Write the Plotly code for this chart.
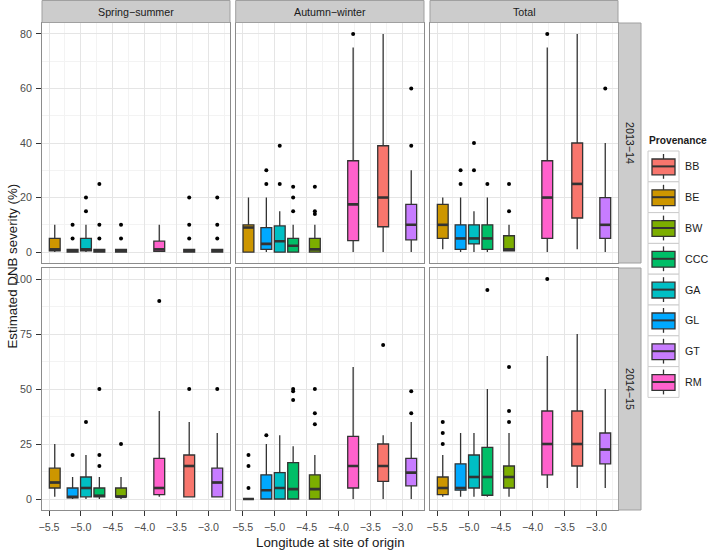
import plotly.graph_objects as go

# ---------------- data ----------------
provenances = ["BB", "BE", "BW", "CCC", "GA", "GL", "GT", "RM"]
longitudes = [-3.30, -5.41, -4.37, -4.71, -4.92, -5.13, -2.86, -3.77]
colors = ["#F8766D", "#CD9600", "#7CAE00", "#00BE67", "#00BFC4", "#00A9FF", "#C77CFF", "#FF61CC"]

seasons = ["Spring\u2212summer", "Autumn\u2212winter", "Total"]
years = ["2013\u221214", "2014\u221215"]

# Spring-summer 2013-14  (order follows `provenances`)
ss13_lo = [0, 0, 0, 0, 0, 0, 0, 0]
ss13_q1 = [0, 0.5, 0, 0, 0.5, 0, 0, 0.3]
ss13_med = [0.5, 1, 0.5, 0.5, 1, 0.5, 0.5, 1]
ss13_q3 = [1, 5, 1, 1, 5, 1, 1, 4]
ss13_hi = [1, 10, 1, 1, 10, 1, 1, 10]
ss13_out = [[5, 10, 20], [], [5, 10], [5, 10, 25], [15, 20], [5, 10], [5, 10, 20], []]

# Autumn-winter 2013-14
aw13_lo = [0, 0, 0, 0, 0, 0, 0, 0]
aw13_q1 = [9.3, 0, 0, 0, 0, 1, 4.5, 4.2]
aw13_med = [20, 9, 1, 2.3, 4, 3, 10, 17.5]
aw13_q3 = [39, 10, 5, 5, 9.6, 9, 17.5, 33.5]
aw13_hi = [80, 20, 10, 10, 15, 20, 30, 75]
aw13_out = [[], [], [14, 15, 24], [15, 20, 24], [25, 39], [25, 30], [39, 60], [80]]

# Total 2013-14
to13_lo = [1, 1, 0.5, 0, 0, 0, 0, 0]
to13_q1 = [12.5, 5, 0.5, 1, 3, 1, 5, 5]
to13_med = [25, 10, 1, 5, 5, 5, 10, 20]
to13_q3 = [40, 17.5, 6, 10, 10, 10, 20, 33.5]
to13_hi = [80, 20, 10, 20, 15, 20, 40, 75]
to13_out = [[], [], [15, 25], [25], [30, 40], [25, 30], [60], [80]]

# Spring-summer 2014-15
ss14_lo = [1, 1, 0, 0, 0, 0, 1, 1]
ss14_q1 = [1, 5, 1, 1, 1, 0.5, 1, 2]
ss14_med = [15, 7.5, 1, 1.5, 5, 1, 7.5, 5]
ss14_q3 = [20, 14, 5, 5, 10, 5, 14, 18.5]
ss14_hi = [35, 25, 10, 10, 20, 10, 30, 40]
ss14_out = [[50], [], [25], [15, 20, 50], [35], [20], [50], [90]]

# Autumn-winter 2014-15
aw14_lo = [0, 0, 0, 0, 0, 0, 0, 0]
aw14_q1 = [8, 0, 0, 0, 0, 0, 6, 5]
aw14_med = [15, 0, 4.5, 4.5, 5, 4, 12, 15]
aw14_q3 = [25, 0, 11, 16.5, 12, 11, 18.5, 28.5]
aw14_hi = [29, 0, 20, 24, 29, 25, 35, 60]
aw14_out = [[70], [5, 15, 20], [34, 39, 50], [45, 49, 50], [], [29], [39, 49], []]

# Total 2014-15
to14_lo = [5, 1, 1, 1, 1, 1, 5, 5]
to14_q1 = [15, 2, 5, 1.7, 5, 4, 16, 11]
to14_med = [25, 5, 10, 10, 10, 5, 22.5, 25]
to14_q3 = [40, 10, 15, 23.5, 20, 16, 30, 40]
to14_hi = [75, 20, 30, 50, 30, 30, 50, 65]
to14_out = [[], [25, 30, 35], [35, 40, 60], [95], [], [], [], [100]]

panels = [
    (ss13_lo, ss13_q1, ss13_med, ss13_q3, ss13_hi, ss13_out),
    (aw13_lo, aw13_q1, aw13_med, aw13_q3, aw13_hi, aw13_out),
    (to13_lo, to13_q1, to13_med, to13_q3, to13_hi, to13_out),
    (ss14_lo, ss14_q1, ss14_med, ss14_q3, ss14_hi, ss14_out),
    (aw14_lo, aw14_q1, aw14_med, aw14_q3, aw14_hi, aw14_out),
    (to14_lo, to14_q1, to14_med, to14_q3, to14_hi, to14_out),
]

x_ticks = [-5.5, -5.0, -4.5, -4.0, -3.5, -3.0]
y_ticks_top = [0, 20, 40, 60, 80]
y_ticks_bottom = [0, 25, 50, 75, 100]

# ---------------- layout geometry ----------------
W, H = 709, 551
COL_X = [(42, 230), (235.7, 424), (430, 618)]
ROW_Y = [(23, 263), (268, 510)]
X_RANGE = [-5.61, -2.66]
Y_RANGES = [[-4, 84], [-5, 105]]
BOX_W = 0.17
FONT = "Liberation Sans, Arial, Helvetica, sans-serif"
OUTLINE = "#333333"


def fx(px):
    return px / W


def fy(py):
    return 1 - py / H


def note(text, x, y, size=10.7, angle=0, xanchor="center", bold=False):
    return dict(text=f"<b>{text}</b>" if bold else text, xref="paper", yref="paper",
                x=fx(x), y=fy(y), xanchor=xanchor, yanchor="middle", showarrow=False,
                textangle=angle, font=dict(size=size, color="#1A1A1A", family=FONT))


fig = go.Figure()
layout = dict(
    width=W, height=H, margin=dict(l=0, r=0, t=0, b=0, autoexpand=False),
    paper_bgcolor="white", plot_bgcolor="white", showlegend=False,
    font=dict(family=FONT, color="#1A1A1A"),
    boxmode="overlay",
)

shapes = []
annotations = []

for r in range(2):
    for c in range(3):
        i = r * 3 + c + 1
        sfx = "" if i == 1 else str(i)
        xa, ya = "x" + sfx, "y" + sfx
        yt = y_ticks_top if r == 0 else y_ticks_bottom
        ydt = yt[1] - yt[0]
        layout["xaxis" + sfx] = dict(
            domain=[fx(COL_X[c][0]), fx(COL_X[c][1])], anchor=ya, range=X_RANGE,
            tickmode="array", tickvals=x_ticks, ticktext=[f"{v:.1f}".replace("-", "\u2212") for v in x_ticks],
            showgrid=True, gridcolor="#E5E5E5", gridwidth=1,
            minor=dict(tickmode="array", tickvals=[v + 0.25 for v in x_ticks] + [x_ticks[0] - 0.25],
                       showgrid=True, gridcolor="#F3F3F3", gridwidth=1),
            showline=True, mirror=True, linecolor="#8C8C8C", linewidth=1, zeroline=False,
            showticklabels=(r == 1), ticks="outside" if r == 1 else "", ticklen=5,
            tickcolor=OUTLINE, tickwidth=1, automargin=False, ticklabelstandoff=2,
            tickfont=dict(size=10.7, color="#4D4D4D", family=FONT),
        )
        layout["yaxis" + sfx] = dict(
            domain=[fy(ROW_Y[r][1]), fy(ROW_Y[r][0])], anchor=xa, range=Y_RANGES[r],
            tickmode="array", tickvals=yt, ticktext=[str(v) for v in yt],
            showgrid=True, gridcolor="#E5E5E5", gridwidth=1,
            minor=dict(tickmode="array", tickvals=[v + ydt / 2 for v in yt[:-1]],
                       showgrid=True, gridcolor="#F3F3F3", gridwidth=1),
            showline=True, mirror=True, linecolor="#8C8C8C", linewidth=1, zeroline=False,
            showticklabels=(c == 0), ticks="outside" if c == 0 else "", ticklen=5,
            tickcolor=OUTLINE, tickwidth=1, automargin=False, ticklabelstandoff=2,
            tickfont=dict(size=10.7, color="#4D4D4D", family=FONT),
        )

        lo, q1, med, q3, hi, outs = panels[i - 1]
        mx, my = [], []
        ox, oy = [], []
        for k, name in enumerate(provenances):
            pos = longitudes[k]
            fig.add_trace(go.Box(
                x=[pos], q1=[q1[k]], median=[med[k]], q3=[q3[k]],
                lowerfence=[lo[k]], upperfence=[hi[k]],
                width=BOX_W, whiskerwidth=0, boxpoints=False,
                fillcolor=colors[k], line=dict(color=OUTLINE, width=1.3),
                name=name, xaxis=xa, yaxis=ya, hoverinfo="skip",
            ))
            mx += [pos - BOX_W / 2, pos + BOX_W / 2, None]
            my += [med[k], med[k], None]
            for v in outs[k]:
                ox.append(pos)
                oy.append(v)
        fig.add_trace(go.Scatter(x=mx, y=my, mode="lines", line=dict(color=OUTLINE, width=2.6),
                                 xaxis=xa, yaxis=ya, hoverinfo="skip"))
        fig.add_trace(go.Scatter(x=ox, y=oy, mode="markers", marker=dict(color="black", size=4),
                                 xaxis=xa, yaxis=ya, hoverinfo="skip"))

# strips
for c in range(3):
    shapes.append(dict(type="rect", xref="paper", yref="paper",
                       x0=fx(COL_X[c][0]), x1=fx(COL_X[c][1]), y0=fy(22.5), y1=fy(0.5),
                       fillcolor="#CCCCCC", line=dict(color="#A0A0A0", width=1), layer="above"))
    annotations.append(note(seasons[c], (COL_X[c][0] + COL_X[c][1]) / 2, 11.5))
for r in range(2):
    shapes.append(dict(type="rect", xref="paper", yref="paper",
                       x0=fx(618.5), x1=fx(641), y0=fy(ROW_Y[r][1]), y1=fy(ROW_Y[r][0]),
                       fillcolor="#CCCCCC", line=dict(color="#A0A0A0", width=1), layer="above"))
    annotations.append(note(years[r], 630, (ROW_Y[r][0] + ROW_Y[r][1]) / 2, angle=90))

# axis titles
annotations.append(note("Longitude at site of origin", 330, 542, size=13.3))
annotations.append(note("Estimated DNB severity (%)", 12, 266.5, size=13.3, angle=-90))

# legend (drawn by hand to mimic ggplot keys)
annotations.append(note("Provenance", 647, 140, size=10.2, xanchor="left", bold=True))
KEY_TOP, KEY_H, KX0, KX1 = 151, 30.8, 648, 679
for k, name in enumerate(provenances):
    t = KEY_TOP + k * KEY_H
    b = t + KEY_H
    cx = (KX0 + KX1) / 2
    shapes.append(dict(type="rect", xref="paper", yref="paper", x0=fx(KX0), x1=fx(KX1),
                       y0=fy(b), y1=fy(t), fillcolor="#FFFFFF", line=dict(color="#CCCCCC", width=1)))
    shapes.append(dict(type="line", xref="paper", yref="paper", x0=fx(cx), x1=fx(cx),
                       y0=fy(b - 3), y1=fy(t + 3), line=dict(color=OUTLINE, width=1.3)))
    shapes.append(dict(type="rect", xref="paper", yref="paper", x0=fx(KX0 + 4), x1=fx(KX1 - 4),
                       y0=fy(b - 7), y1=fy(t + 8), fillcolor=colors[k],
                       line=dict(color=OUTLINE, width=1.3)))
    shapes.append(dict(type="line", xref="paper", yref="paper", x0=fx(KX0 + 4), x1=fx(KX1 - 4),
                       y0=fy(t + KEY_H / 2), y1=fy(t + KEY_H / 2), line=dict(color=OUTLINE, width=2)))
    annotations.append(note(name, 683, t + KEY_H / 2, xanchor="left"))

layout["shapes"] = shapes
layout["annotations"] = annotations
fig.update_layout(**layout)
fig.write_html("out.html", config={"displayModeBar": False},
               post_script="document.body.style.margin='0';document.body.style.overflow='hidden';")
